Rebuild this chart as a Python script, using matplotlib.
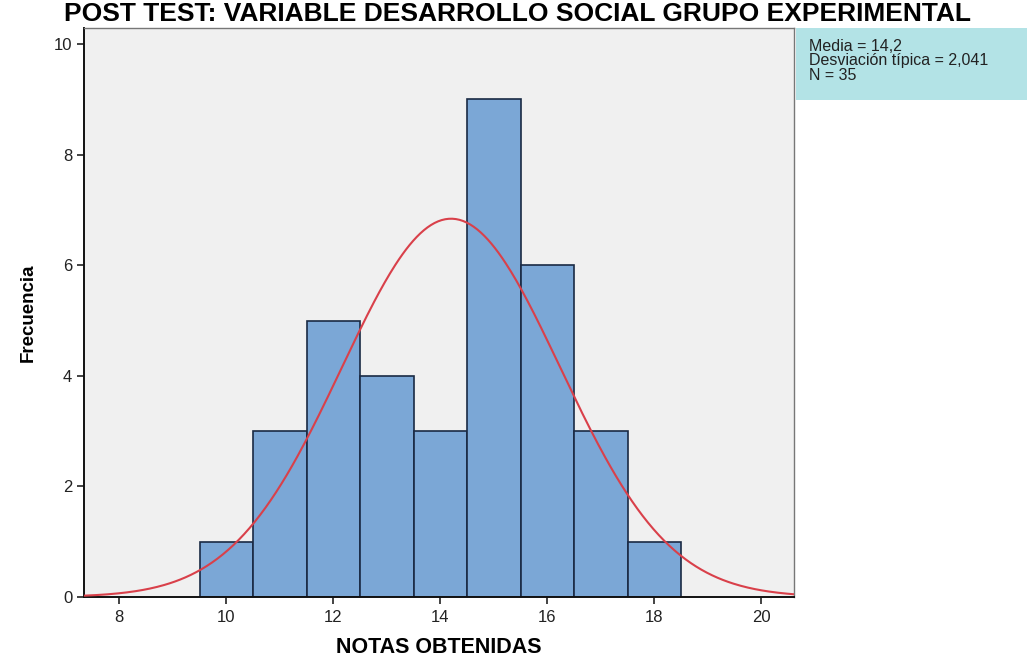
import numpy as np
import matplotlib
matplotlib.use("Agg")
import matplotlib.pyplot as plt
from matplotlib.patches import Rectangle

plt.rcParams['font.family'] = ['Liberation Sans', 'DejaVu Sans']

# Data
notas = [10, 11, 12, 13, 14, 15, 16, 17, 18]
frecuencias = [1, 3, 5, 4, 3, 9, 6, 3, 1]
media = 14.2
desviacion = 2.041
n = 35
yticks = [0, 2, 4, 6, 8, 10]
xticks = [8, 10, 12, 14, 16, 18, 20]

fig = plt.figure(figsize=(10.27, 6.58), dpi=100)
ax = fig.add_axes([84/1027, 1 - 597/658, (794-84)/1027, (597-28)/658])
ax.set_facecolor('#f0f0f0')

ax.bar(notas, frecuencias, width=1.0, color='#7ba7d6', edgecolor='#1a2a44', linewidth=1.2, zorder=2)

xs = np.linspace(7.34, 20.61, 400)
ys = n * 1.0 * np.exp(-0.5 * ((xs - media) / desviacion) ** 2) / (desviacion * np.sqrt(2 * np.pi))
ax.plot(xs, ys, color='#d9404a', linewidth=1.5, zorder=3)

ax.set_xlim(7.34, 20.61)
ax.set_ylim(0, 10.29)
ax.set_xticks(xticks)
ax.set_yticks(yticks)
ax.tick_params(axis='both', direction='out', length=5, width=1.2, labelsize=12, colors='#222222')
ax.tick_params(axis='x', pad=4)
for s in ['top', 'right']:
    ax.spines[s].set_color('#777777')
    ax.spines[s].set_linewidth(1.0)
for s in ['left', 'bottom']:
    ax.spines[s].set_color('#111111')
    ax.spines[s].set_linewidth(1.4)

ax.set_ylabel('Frecuencia', fontsize=13.5, fontweight='bold', labelpad=12)
ax.set_xlabel('NOTAS OBTENIDAS', fontsize=15.5, fontweight='bold', labelpad=9)

# Info box
fig.patches.append(Rectangle((796/1027, 1 - 100/658), (1027-796)/1027, (100-28)/658,
                             transform=fig.transFigure, facecolor='#b3e3e6', edgecolor='none'))
fig.text(809/1027, 1 - 39/658, 'Media = 14,2\nDesviación típica = 2,041\nN = 35',
         fontsize=11.5, va='top', ha='left', linespacing=0.95, color='#222222')

fig.text(518/1027, 1 - 21/658, 'POST TEST: VARIABLE DESARROLLO SOCIAL GRUPO EXPERIMENTAL',
         fontsize=19, fontweight='bold', ha='center', va='baseline')

fig.savefig('out.png', dpi=100)
